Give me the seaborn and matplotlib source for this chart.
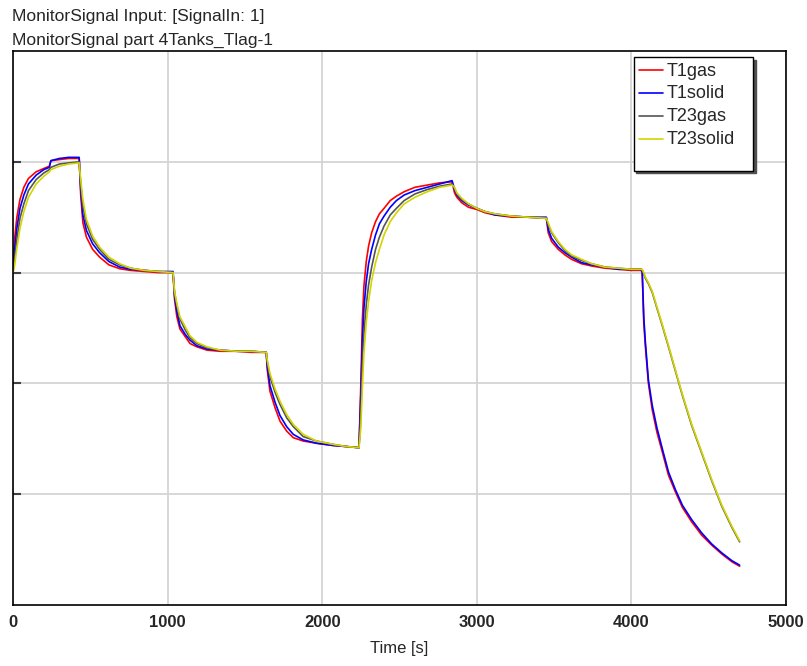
import numpy as np
import pandas as pd
import seaborn as sns
import matplotlib.pyplot as plt
from matplotlib.lines import Line2D

# sample times [s]
time_s = [0, 10, 25, 45, 70, 100, 150, 200, 235, 245, 300, 360, 428,
          438, 452, 475, 515, 560, 620, 690, 760, 850, 940, 1035,
          1045, 1060, 1080, 1115, 1145, 1190, 1255, 1340, 1450, 1540, 1638,
          1645, 1662, 1695, 1727, 1770, 1813, 1877, 1963, 2070, 2157, 2238,
          2250, 2260, 2270, 2285, 2300, 2320, 2345, 2370, 2400, 2440, 2480, 2530, 2600, 2680, 2760, 2840,
          2856, 2871, 2903, 2946, 3000, 3054, 3118, 3226, 3333, 3450,
          3462, 3484, 3527, 3570, 3613, 3677, 3742, 3828, 3914, 4000, 4062,
          4070, 4080, 4090, 4110, 4135, 4165, 4200, 4240, 4285, 4330, 4390, 4455, 4520, 4585, 4650, 4700]

t1gas = [3.00, 3.30, 3.50, 3.66, 3.77, 3.85, 3.91, 3.94, 3.96, 4.01, 4.02, 4.03, 4.03,
         3.70, 3.45, 3.32, 3.21, 3.14, 3.07, 3.035, 3.02, 3.01, 3.00, 3.00,
         2.76, 2.60, 2.49, 2.42, 2.36, 2.33, 2.30, 2.29, 2.29, 2.28, 2.28,
         2.12, 1.93, 1.78, 1.66, 1.57, 1.51, 1.48, 1.46, 1.44, 1.43, 1.42,
         2.00, 2.58, 2.88, 3.10, 3.24, 3.36, 3.46, 3.53, 3.58, 3.65, 3.69, 3.73, 3.77, 3.79, 3.81, 3.82,
         3.72, 3.68, 3.63, 3.59, 3.57, 3.54, 3.52, 3.50, 3.50, 3.49,
         3.36, 3.28, 3.21, 3.16, 3.12, 3.08, 3.06, 3.04, 3.03, 3.02, 3.02,
         3.00, 2.55, 2.34, 2.00, 1.76, 1.56, 1.38, 1.17, 1.02, 0.88, 0.75, 0.63, 0.54, 0.46, 0.39, 0.35]

t1solid = [3.00, 3.20, 3.40, 3.58, 3.70, 3.80, 3.88, 3.93, 3.95, 4.01, 4.03, 4.04, 4.04,
           3.75, 3.52, 3.38, 3.26, 3.18, 3.10, 3.05, 3.03, 3.02, 3.01, 3.01,
           2.79, 2.65, 2.52, 2.44, 2.39, 2.34, 2.31, 2.30, 2.29, 2.29, 2.28,
           2.15, 1.98, 1.83, 1.71, 1.61, 1.54, 1.49, 1.46, 1.44, 1.43, 1.42,
           1.90, 2.38, 2.68, 2.92, 3.08, 3.21, 3.34, 3.44, 3.51, 3.59, 3.65, 3.70, 3.74, 3.77, 3.80, 3.83,
           3.75, 3.70, 3.65, 3.61, 3.58, 3.55, 3.52, 3.51, 3.50, 3.50,
           3.39, 3.31, 3.23, 3.18, 3.14, 3.09, 3.07, 3.05, 3.03, 3.03, 3.03,
           3.01, 2.60, 2.38, 2.03, 1.80, 1.60, 1.41, 1.20, 1.04, 0.90, 0.77, 0.65, 0.55, 0.47, 0.40, 0.36]

t23gas = [3.00, 3.12, 3.30, 3.49, 3.62, 3.74, 3.84, 3.90, 3.93, 3.95, 3.98, 3.99, 4.00,
          3.80, 3.60, 3.44, 3.30, 3.21, 3.12, 3.07, 3.04, 3.02, 3.01, 3.00,
          2.82, 2.70, 2.58, 2.48, 2.41, 2.36, 2.32, 2.30, 2.29, 2.29, 2.28,
          2.19, 2.06, 1.92, 1.81, 1.69, 1.61, 1.52, 1.48, 1.45, 1.43, 1.42,
          1.72, 2.18, 2.45, 2.71, 2.89, 3.05, 3.21, 3.32, 3.42, 3.52, 3.58, 3.65, 3.71, 3.75, 3.78, 3.80,
          3.76, 3.71, 3.66, 3.62, 3.58, 3.55, 3.53, 3.51, 3.50, 3.49,
          3.43, 3.36, 3.27, 3.20, 3.15, 3.11, 3.08, 3.05, 3.04, 3.03, 3.03,
          3.02, 2.99, 2.95, 2.90, 2.82, 2.68, 2.52, 2.33, 2.11, 1.89, 1.62, 1.37, 1.12, 0.89, 0.70, 0.57]

t23solid = [3.00, 3.06, 3.22, 3.40, 3.55, 3.68, 3.80, 3.87, 3.91, 3.93, 3.96, 3.98, 3.99,
            3.84, 3.66, 3.48, 3.33, 3.23, 3.14, 3.08, 3.04, 3.02, 3.01, 3.00,
            2.83, 2.72, 2.60, 2.51, 2.43, 2.37, 2.33, 2.30, 2.29, 2.29, 2.28,
            2.21, 2.09, 1.95, 1.84, 1.72, 1.63, 1.54, 1.48, 1.45, 1.43, 1.42,
            1.60, 1.97, 2.28, 2.55, 2.74, 2.93, 3.09, 3.21, 3.34, 3.46, 3.54, 3.62, 3.68, 3.73, 3.77, 3.79,
            3.77, 3.72, 3.67, 3.62, 3.58, 3.55, 3.53, 3.51, 3.50, 3.49,
            3.45, 3.37, 3.28, 3.21, 3.16, 3.12, 3.08, 3.05, 3.04, 3.03, 3.03,
            3.03, 3.00, 2.96, 2.91, 2.83, 2.69, 2.53, 2.34, 2.12, 1.90, 1.63, 1.38, 1.13, 0.90, 0.71, 0.58]

series_names = ['T1gas', 'T1solid', 'T23gas', 'T23solid']
series_colors = ['#ff0000', '#0000ff', '#555555', '#d4d400']
x_ticks = [0, 1000, 2000, 3000, 4000, 5000]
y_ticks = [1, 2, 3, 4]

if __name__ == '__main__':
    df = pd.DataFrame({'Time': time_s, 'T1gas': t1gas, 'T1solid': t1solid,
                       'T23gas': t23gas, 'T23solid': t23solid})
    df = df.melt(id_vars='Time', var_name='Signal', value_name='Value')

    sns.set_style('white')
    plt.rcParams['font.family'] = ['Liberation Sans', 'DejaVu Sans']
    narrow = ['Liberation Sans Narrow', 'Liberation Sans', 'DejaVu Sans']

    fig = plt.figure(figsize=(8.07, 6.66), dpi=100)
    ax = fig.add_axes([13 / 807, 1 - 605 / 666, 773 / 807, 554 / 666])

    palette = dict(zip(series_names, series_colors))
    sns.lineplot(data=df, x='Time', y='Value', hue='Signal', hue_order=series_names,
                 palette=palette, estimator=None, lw=1.2, legend=False, ax=ax)

    ax.set_xlim(0, 5000)
    ax.set_ylim(0, 5)
    ax.set_xticks(x_ticks)
    ax.set_xticklabels([str(t) for t in x_ticks], family=narrow, fontweight='bold', fontsize=12)
    ax.set_yticks(y_ticks)
    ax.set_yticklabels([])
    ax.tick_params(axis='x', length=0, pad=7)
    ax.tick_params(axis='y', direction='in', length=6, width=1.5, color='#404040', left=True)
    ax.grid(True, color='#d4d4d4', lw=1.3)
    for sp in ax.spines.values():
        sp.set_color('black')
        sp.set_linewidth(1.2)

    ax.set_xlabel('Time [s]', family=narrow, fontsize=12, labelpad=8)
    ax.set_ylabel('')

    fig.text(12 / 807, 1 - 17 / 666, 'MonitorSignal Input: [SignalIn: 1]', fontsize=12.6, va='center')
    fig.text(12 / 807, 1 - 40 / 666, 'MonitorSignal part 4Tanks_Tlag-1', fontsize=12.6, va='center')

    # legend with an empty last row, like the original box
    handles = [Line2D([], [], color=c, lw=1.2) for c in series_colors]
    handles.append(Line2D([], [], color='none'))
    leg = ax.legend(handles=handles, labels=series_names + [' '],
                    loc='upper left', bbox_to_anchor=(0.803, 0.793, 0.154, 0.196),
                    mode='expand', borderaxespad=0, fontsize=13,
                    handlelength=1.3, handleheight=0.3, handletextpad=0.25, labelspacing=0.32,
                    borderpad=0.3, fancybox=False, framealpha=1,
                    edgecolor='black', shadow={'color': '#505050', 'alpha': 1})
    leg.get_frame().set_linewidth(1.0)
    leg.get_texts()[-1].set_fontsize(3)

    plt.savefig('out.png', dpi=100)
